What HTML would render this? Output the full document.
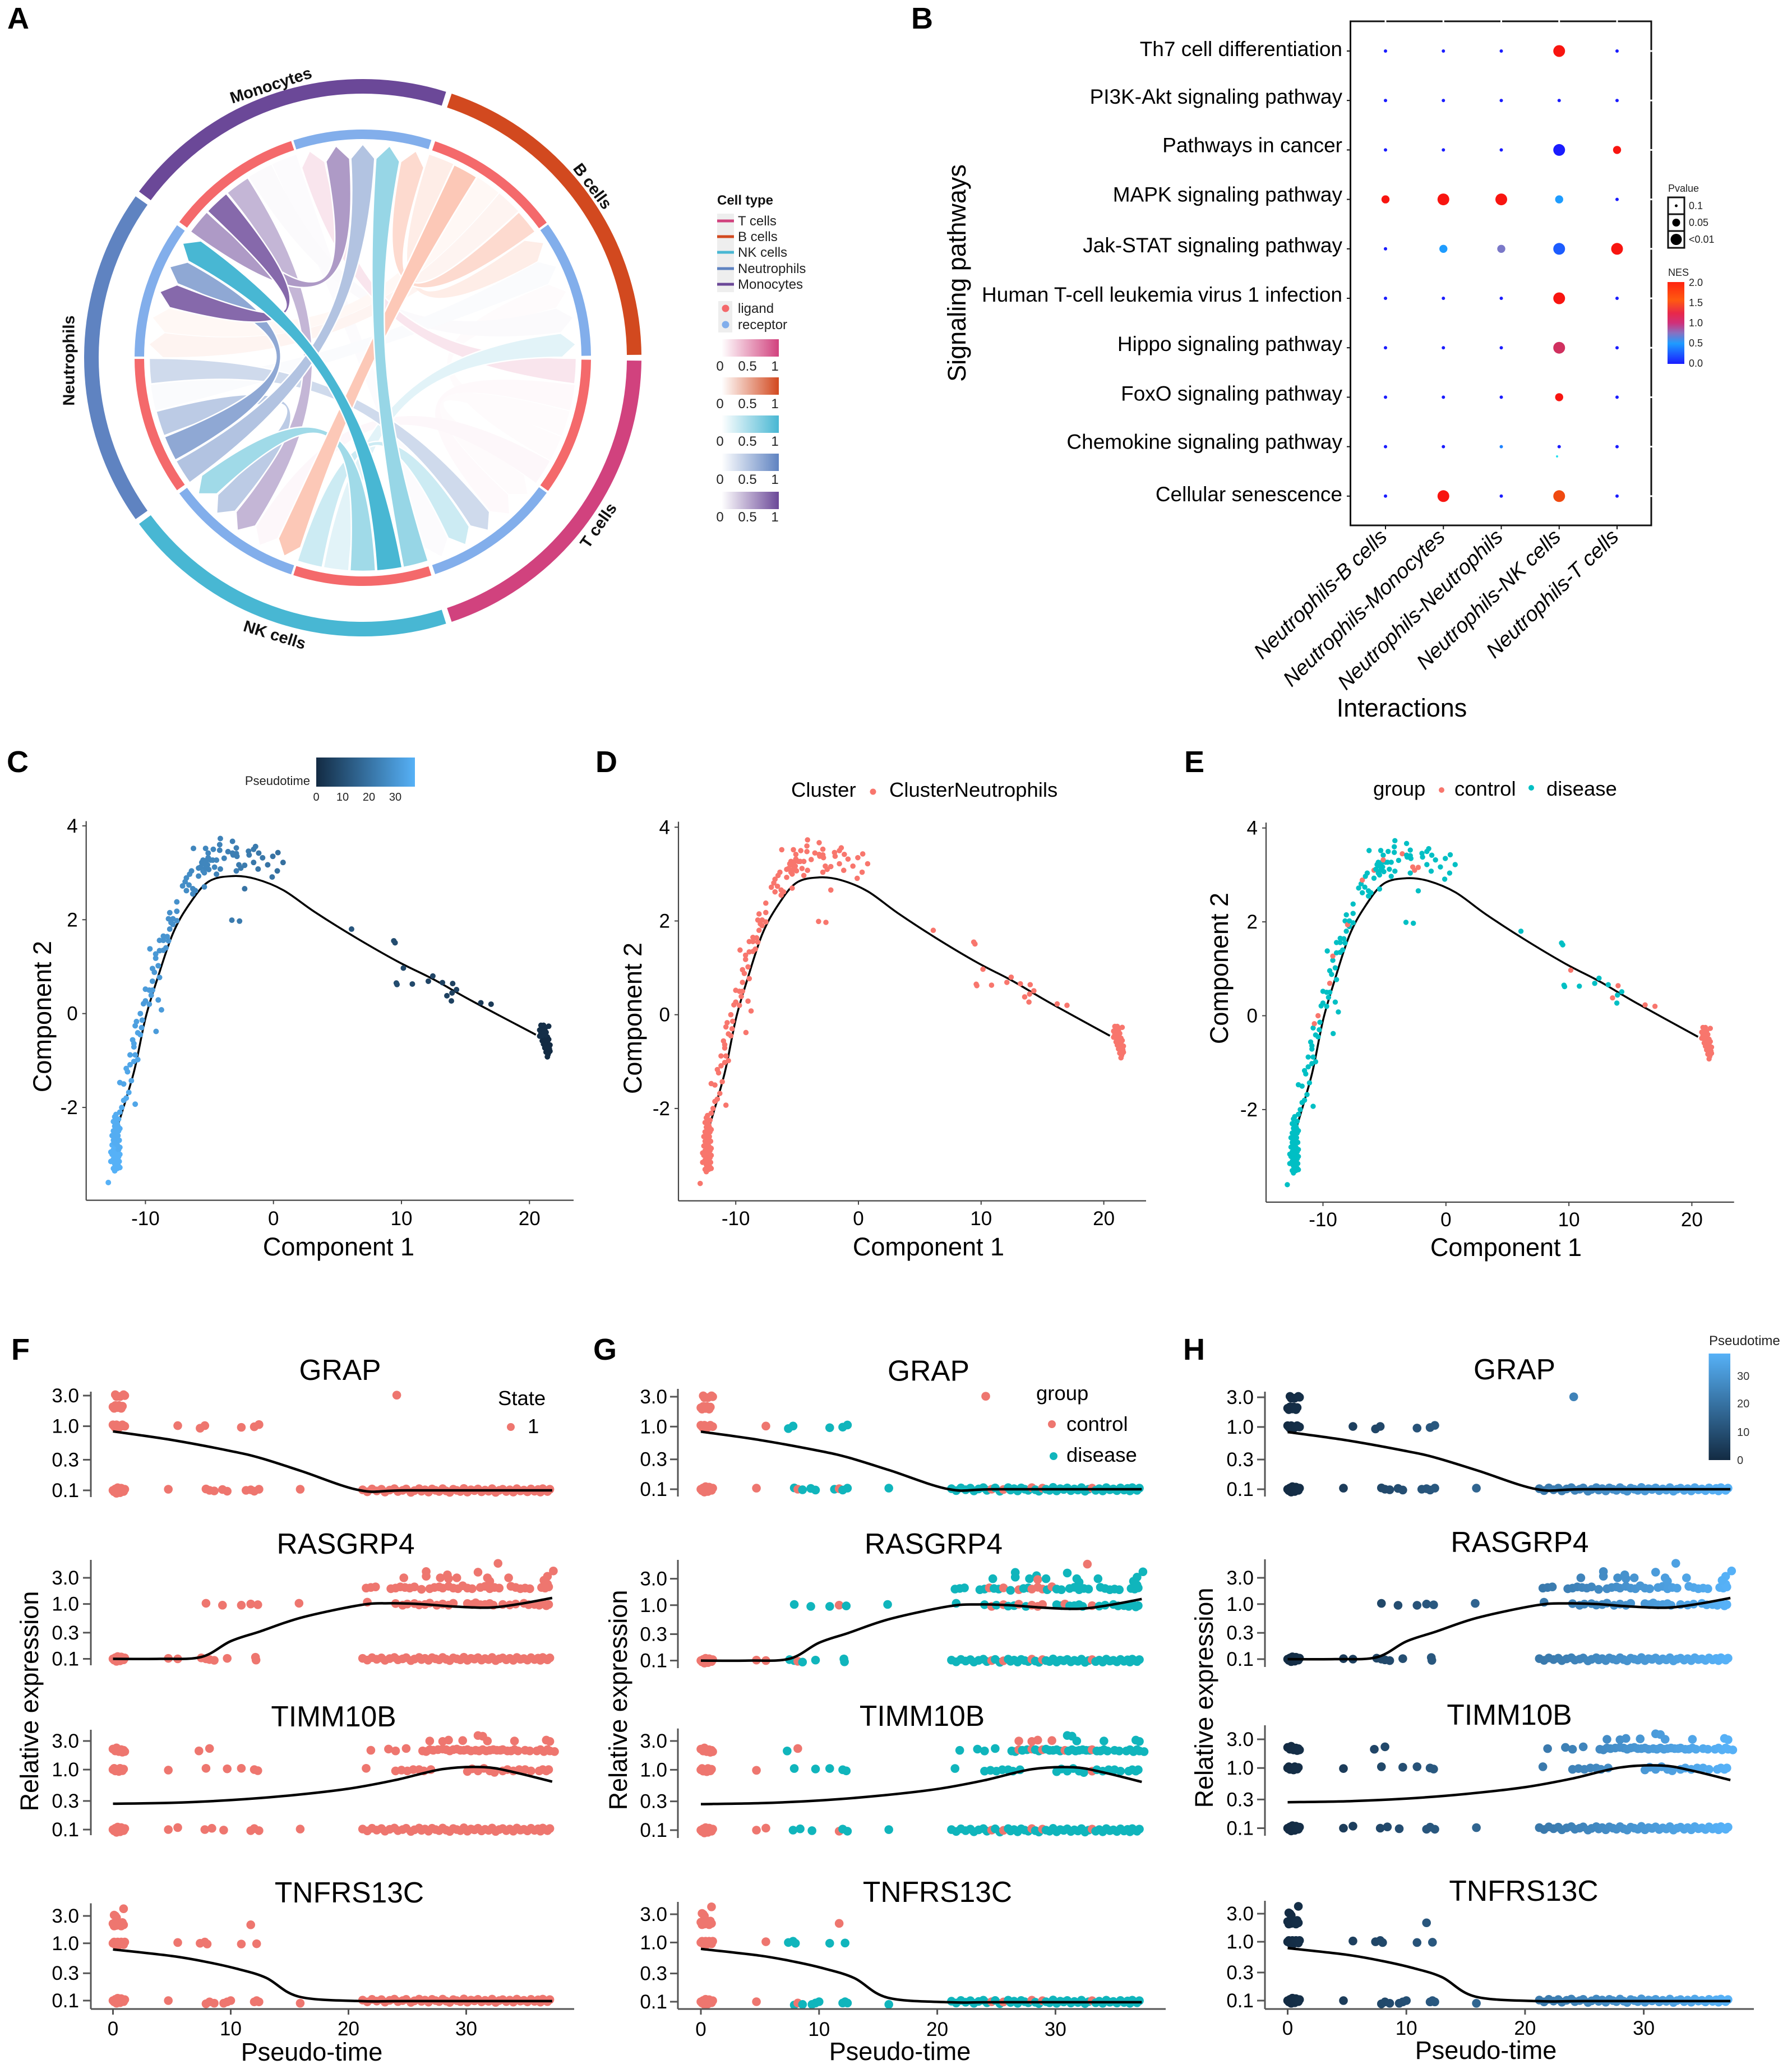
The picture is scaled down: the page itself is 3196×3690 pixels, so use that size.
<!DOCTYPE html>
<html lang="en">
<head>
<meta charset="utf-8">
<title>Neutrophil cell communication and pseudotime figure</title>
<style>
html,body{margin:0;padding:0;background:#fff;}
svg{display:block;font-family:"Liberation Sans",Arial,sans-serif;}
.pl{font-weight:700;font-size:54px;fill:#000;}
.ring{font-weight:700;font-size:29px;fill:#111;text-anchor:middle;}
.lg{font-size:24px;fill:#222;}
.at{font-size:45px;fill:#000;text-anchor:middle;}
.tk{font-size:35px;fill:#000;}
.lg36{font-size:36.5px;fill:#000;}
.sm18{font-size:18px;fill:#222;}
</style>
</head>
<body>
<svg id="figure" xmlns="http://www.w3.org/2000/svg" width="3196" height="3690" viewBox="0 0 3196 3690">
<defs>
<linearGradient id="gT" x1="0" x2="1" y1="0" y2="0"><stop offset="0" stop-color="#fff"/><stop offset="1" stop-color="#D1427E"/></linearGradient>
<linearGradient id="gB" x1="0" x2="1" y1="0" y2="0"><stop offset="0" stop-color="#fff"/><stop offset="1" stop-color="#D2491F"/></linearGradient>
<linearGradient id="gNK" x1="0" x2="1" y1="0" y2="0"><stop offset="0" stop-color="#fff"/><stop offset="1" stop-color="#48B7D3"/></linearGradient>
<linearGradient id="gN" x1="0" x2="1" y1="0" y2="0"><stop offset="0" stop-color="#fff"/><stop offset="1" stop-color="#5F83C1"/></linearGradient>
<linearGradient id="gM" x1="0" x2="1" y1="0" y2="0"><stop offset="0" stop-color="#fff"/><stop offset="1" stop-color="#6B4898"/></linearGradient>
<linearGradient id="gPt" x1="0" x2="1" y1="0" y2="0"><stop offset="0" stop-color="#132B43"/><stop offset="1" stop-color="#56B1F7"/></linearGradient>
<linearGradient id="gPtV" x1="0" x2="0" y1="1" y2="0"><stop offset="0" stop-color="#132B43"/><stop offset="1" stop-color="#56B1F7"/></linearGradient>
<linearGradient id="gNes" x1="0" x2="0" y1="1" y2="0">
<stop offset="0" stop-color="#1a1cff"/><stop offset=".25" stop-color="#1e9cff"/><stop offset=".38" stop-color="#8a70c0"/><stop offset=".5" stop-color="#d0307a"/><stop offset=".62" stop-color="#e8284a"/><stop offset=".78" stop-color="#ff5a10"/><stop offset="1" stop-color="#ff2410"/>
</linearGradient>
</defs>

<g>
<text class="pl" x="13" y="51">A</text>
<text class="pl" x="1625" y="51">B</text>
<text class="pl" x="12" y="1377">C</text>
<text class="pl" x="1062" y="1377">D</text>
<text class="pl" x="2112" y="1377">E</text>
<text class="pl" x="20" y="2425">F</text>
<text class="pl" x="1058" y="2425">G</text>
<text class="pl" x="2110" y="2425">H</text>
</g>

<g id="panelA">
<g id="chordRibbons"></g>
<g id="chordRings"></g>
<text class="ring" transform="translate(483,152) rotate(-18)" dy="10">Monocytes</text>
<text class="ring" transform="translate(1057,332) rotate(53)" dy="10">B cells</text>
<text class="ring" transform="translate(1067,937) rotate(-55)" dy="10">T cells</text>
<text class="ring" transform="translate(490,1132) rotate(17)" dy="10">NK cells</text>
<text class="ring" transform="translate(122.5,643) rotate(-90)" dy="10">Neutrophils</text>

<g>
<text x="1279" y="365" font-size="24" font-weight="700" fill="#111">Cell type</text>
<rect x="1279" y="381" width="30" height="140" fill="#eee"/>
<line x1="1279" x2="1309" y1="394" y2="394" stroke="#D1427E" stroke-width="5"/>
<line x1="1279" x2="1309" y1="422" y2="422" stroke="#D2491F" stroke-width="5"/>
<line x1="1279" x2="1309" y1="450" y2="450" stroke="#48B7D3" stroke-width="5"/>
<line x1="1279" x2="1309" y1="479" y2="479" stroke="#5F83C1" stroke-width="5"/>
<line x1="1279" x2="1309" y1="507" y2="507" stroke="#6B4898" stroke-width="5"/>
<text class="lg" x="1316" y="402">T cells</text>
<text class="lg" x="1316" y="430">B cells</text>
<text class="lg" x="1316" y="458">NK cells</text>
<text class="lg" x="1316" y="487">Neutrophils</text>
<text class="lg" x="1316" y="515">Monocytes</text>
<rect x="1281" y="537" width="25" height="56" fill="#eee"/>
<circle cx="1294" cy="550" r="6.5" fill="#F4696B"/>
<circle cx="1294" cy="579" r="6.5" fill="#82AEEB"/>
<text class="lg" x="1316" y="558">ligand</text>
<text class="lg" x="1316" y="587">receptor</text>
<rect x="1287" y="605" width="102" height="31" fill="url(#gT)"/>
<rect x="1287" y="673" width="102" height="31" fill="url(#gB)"/>
<rect x="1287" y="741" width="102" height="31" fill="url(#gNK)"/>
<rect x="1287" y="809" width="102" height="31" fill="url(#gN)"/>
<rect x="1287" y="877" width="102" height="31" fill="url(#gM)"/>
<g id="gradLabels"></g>
</g>
</g>

<g id="panelB">
<rect x="2408.5" y="38" width="536.5" height="899" fill="none" stroke="#111" stroke-width="3"/>
<g id="dotPlot"></g>
<text class="at" transform="translate(1722,487) rotate(-90)">Signaling pathways</text>
<text class="at" x="2500" y="1278">Interactions</text>
<g>
<text class="sm18" x="2975" y="342">Pvalue</text>
<rect x="2975" y="352" width="29" height="30" fill="#fff" stroke="#111" stroke-width="3"/>
<rect x="2975" y="382" width="29" height="30" fill="#fff" stroke="#111" stroke-width="3"/>
<rect x="2975" y="412" width="29" height="30" fill="#fff" stroke="#111" stroke-width="3"/>
<circle cx="2989.5" cy="367" r="2.5" fill="#000"/>
<circle cx="2989.5" cy="397" r="7" fill="#000"/>
<circle cx="2989.5" cy="427" r="10" fill="#000"/>
<text class="sm18" x="3012" y="373">0.1</text>
<text class="sm18" x="3012" y="403">0.05</text>
<text class="sm18" x="3012" y="433">&lt;0.01</text>
</g>
<g>
<text class="sm18" x="2975" y="492">NES</text>
<rect x="2974" y="503" width="30" height="146" fill="url(#gNes)"/>
<text class="sm18" x="3012" y="510">2.0</text>
<text class="sm18" x="3012" y="546">1.5</text>
<text class="sm18" x="3012" y="582">1.0</text>
<text class="sm18" x="3012" y="618">0.5</text>
<text class="sm18" x="3012" y="654">0.0</text>
</g>
</g>

<g id="panelC">
<text x="553" y="1400" font-size="22" fill="#222" text-anchor="end">Pseudotime</text>
<rect x="564" y="1351" width="176" height="52" fill="url(#gPt)"/>
<text x="564" y="1428" font-size="20" fill="#222" text-anchor="middle">0</text>
<text x="611" y="1428" font-size="20" fill="#222" text-anchor="middle">10</text>
<text x="658" y="1428" font-size="20" fill="#222" text-anchor="middle">20</text>
<text x="705" y="1428" font-size="20" fill="#222" text-anchor="middle">30</text>
<text class="at" x="604" y="2239">Component 1</text>
<text class="at" transform="translate(91,1813) rotate(-90)">Component 2</text>
</g>
<g id="panelD">
<text class="lg36" x="1411" y="1421">Cluster</text>
<circle cx="1557" cy="1412" r="5.5" fill="#F8766D"/>
<text class="lg36" x="1586" y="1421">ClusterNeutrophils</text>
<text class="at" x="1656" y="2239">Component 1</text>
<text class="at" transform="translate(1144,1816) rotate(-90)">Component 2</text>
</g>
<g id="panelE">
<text class="lg36" x="2449" y="1419">group</text>
<circle cx="2571" cy="1409" r="5" fill="#F8766D"/>
<text class="lg36" x="2594" y="1419">control</text>
<circle cx="2731" cy="1405" r="5" fill="#00BFC4"/>
<text class="lg36" x="2758" y="1419">disease</text>
<text class="at" x="2686" y="2240">Component 1</text>
<text class="at" transform="translate(2190,1727) rotate(-90)">Component 2</text>
</g>

<g id="panelF">
<text class="at" transform="translate(68,3034) rotate(-90)">Relative expression</text>
<text class="at" x="556" y="3675">Pseudo-time</text>
</g>
<g id="panelG">
<text class="at" transform="translate(1118,3032) rotate(-90)">Relative expression</text>
<text class="at" x="1605" y="3674">Pseudo-time</text>
</g>
<g id="panelH">
<text class="at" transform="translate(2163,3028) rotate(-90)">Relative expression</text>
<text class="at" x="2650" y="3672">Pseudo-time</text>
</g>
<g id="legendsFGH">
<text class="lg36" x="888" y="2506">State</text>
<circle cx="911" cy="2545" r="7" fill="#EE766F"/>
<text class="lg36" x="941" y="2556">1</text>
<text class="lg36" x="1848" y="2497">group</text>
<circle cx="1876" cy="2540" r="7" fill="#EE766F"/>
<text class="lg36" x="1902" y="2552">control</text>
<circle cx="1879" cy="2597" r="7" fill="#10B5BC"/>
<text class="lg36" x="1902" y="2607">disease</text>
<text x="3048" y="2399" font-size="24" fill="#222">Pseudotime</text>
<rect x="3047.5" y="2414" width="38.5" height="190" fill="url(#gPtV)"/>
<text x="3098" y="2461" font-size="20" fill="#333">30</text>
<text x="3098" y="2510" font-size="20" fill="#333">20</text>
<text x="3098" y="2561" font-size="20" fill="#333">10</text>
<text x="3098" y="2611" font-size="20" fill="#333">0</text>
</g>
</svg>

<script>
/* ---------- Panel A data ---------- */
const cellTypes = ['B','T','NK','N','M'];
const chordFromType = ['T','T','T','T','M','M','N','B','B','B','T','NK','B','B','NK','N','M','N','N','NK','B','M','NK','N','M','NK'];
const chordFromSlot = [2,3,1,4,4,3,3,2,3,0,0,3,4,1,4,4,2,2,0,2,1,0,0,1,1,1];
const chordToType   = ['T','B','T','NK','T','B','B','N','N','B','M','B','M','NK','T','T','NK','NK','M','NK','NK','M','M','N','N','N'];
const chordToSlot   = [0,2,1,1,4,3,1,1,0,0,0,4,4,0,3,2,2,3,2,4,0,1,3,3,2,4];
const chordStrength = [.02,.02,.03,.04,.02,.03,.03,.04,.06,.1,.14,.16,.2,.3,.28,.3,.4,.42,.48,.52,.3,.55,.57,.7,.82,1];

/* ---------- Panel B data ---------- */
const pathways = ['Th7 cell differentiation','PI3K-Akt signaling pathway','Pathways in cancer','MAPK signaling pathway','Jak-STAT signaling pathway','Human T-cell leukemia virus 1 infection','Hippo signaling pathway','FoxO signaling pathway','Chemokine signaling pathway','Cellular senescence'];
const interactions = ['Neutrophils-B cells','Neutrophils-Monocytes','Neutrophils-Neutrophils','Neutrophils-NK cells','Neutrophils-T cells'];
const pvalues = [
 [.1,.1,.1,.01,.1],[.1,.1,.1,.1,.1],[.1,.1,.1,.008,.05],[.05,.01,.01,.045,.1],[.1,.045,.045,.01,.01],
 [.1,.1,.1,.01,.1],[.1,.1,.1,.01,.1],[.1,.1,.1,.05,.1],[.1,.1,.1,.1,.1],[.1,.01,.1,.01,.1]];
const nesValues = [
 [0,0,0,2,0],[0,0,0,0,0],[0,0,0,0,2],[2,2,2,.5,0],[0,.5,.75,.25,2],
 [0,0,0,2,0],[0,0,0,1.15,0],[0,0,0,2,0],[0,0,.4,0,0],[0,2,0,1.6,0]];

/* ---------- Panels C/D/E data ---------- */
const compX = [
-12.9,-12.7,-12.7,-12.6,-12.5,-12.5,-12.5,-12.5,-12.5,-12.4,
-12.4,-12.4,-12.4,-12.4,-12.4,-12.3,-12.3,-12.3,-12.3,-12.3,
-12.3,-12.2,-12.2,-12.2,-12.2,-12.2,-12.1,-12.1,-12.1,-12.1,
-12.1,-12.3,-12,-12,-11.85,-11.5,-11.3,-11.7,-12,-11.7,
-10.8,-11.1,-11.5,-11.4,-11.2,-10.9,-10.6,-11.2,-10.8,-10.9,
-11,-10.9,-10.6,-10.4,-10.8,-10.7,-10.3,-10.25,-10.4,-10.15,
-10,-9.7,-10,-9.7,-9.55,-9.45,-9,-8.75,-9.17,-9.45,
-8.9,-9,-9.45,-9.3,-9.2,-9.2,-9.65,-8.9,-8.6,-8.4,
-8.9,-8.6,-8.6,-8.3,-8.2,-8.1,-8.2,-7.85,-8,-8.1,
-7.55,-7.55,-7.55,-7.85,-7.1,-6.8,-6.9,-6.8,-6.55,-6.6,
-6.3,-6.3,-6.1,-6.4,-5.85,-5.4,-5.5,-5.4,-5.85,-6.25,
-5.3,-4.7,-4.15,-4.2,-3.2,-2.9,-3.55,-3.2,-3.15,-2.9,
-2.85,-3.85,-4.2,-5.1,-5.5,-5.2,-4.9,-5.1,-5.6,-5.4,
-5.15,-4.75,-4.45,-5.7,-5.3,-5.05,-4.6,-4.15,-4.45,-2.9,
-2.7,-2.55,-2.25,-1.95,-1.9,-1.55,-1.4,-1.15,-.85,-1.55,
-1.2,-.45,-.05,.35,.75,.3,-.1,-2.25,-3.25,-2.65,
6.1,9.4,9.5,9.6,9.65,10.15,10.85,12.1,12.45,13.2,
14,14.3,13.55,13.95,13.9,16.2,17,20.9,21.1,21.5,
20.8,21,21.2,20.9,21.1,21.3,20.8,21,21.2,21.4,
21,21.2,21.4,21.5,21.1,21.3,21.6,21.2,21.4,21.55,
21.3,21.5,21.6,21.4,21.45,
-12.6,-12.5,-12.4,-12.2,-12,-12.05,-12.45,-12.35,-12.25,-12.15,
-12.6,-12.55,-12.25,-12.35,-12.05,-12,-12,-12.15,-12.45,-12.3];
const compY = [
-3.6,-3.15,-2.95,-2.8,-3.3,-3.1,-2.9,-2.7,-2.5,-3.35,
-3.2,-3,-2.85,-2.6,-2.4,-3.3,-3.15,-3.05,-2.9,-2.75,
-2.55,-3.3,-3.1,-2.95,-2.8,-2.65,-3.25,-3.05,-2.9,-2.5,
-2.25,-2.15,-2.1,-3.28,-2,-1.8,-1.68,-1.85,-1.47,-1.5,
-1.93,-1.43,-1.17,-1.24,-1.09,-1.02,-.98,-.88,-.88,-.71,
-.56,-.64,-.41,-.45,-.26,-.17,-.3,-.14,0,.21,
.27,.2,.52,.5,.39,.5,.29,.08,-.38,.69,
.77,1.02,.96,.88,1.18,1.27,1.38,1.34,1.35,1.4,
1.56,1.65,1.56,1.64,1.55,1.8,2.02,1.9,1.94,2.15,
1.98,2.18,2.38,2.02,2.72,2.62,2.81,2.89,2.97,2.74,
2.66,2.55,2.62,3.04,2.93,2.7,3.04,3,3.1,3.52,
3.52,3.5,3.73,3.6,3.67,3.53,3.45,3.42,3.38,3.41,
3.35,3.31,3.48,3.42,3.27,3.27,3.27,3.32,3.22,3.19,
3.17,3.27,3.27,3.12,3.1,3.07,3.12,3.08,2.97,3.04,
3.17,3.1,3.16,3.46,3.38,3.5,3.56,3.42,3.32,3.22,
3.08,3.17,3.35,3.43,3.22,3.04,2.91,2.66,1.99,1.97,
1.8,1.55,1.51,.65,.62,.97,.63,.69,.8,.66,
.64,.51,.38,.44,.27,.23,.2,-.25,-.25,-.27,
-.35,-.35,-.33,-.42,-.42,-.4,-.48,-.5,-.48,-.5,
-.58,-.57,-.6,-.55,-.65,-.67,-.67,-.73,-.75,-.75,
-.82,-.83,-.8,-.92,-.87,
-2.6,-2.3,-2.2,-2.35,-2.45,-2.7,-2.75,-2.5,-2.45,-2.6,
-3,-2.95,-3.2,-3.25,-3.15,-3,-2.85,-2.4,-2.3,-2.35];
const pseudotime = [
37,37,37,37,37,37,37,36,36,37,
37,37,37,36,36,37,37,37,37,36,
36,37,37,37,36,36,37,37,36,36,
36,36,35,37,35,35,35,35,34,34,
34,34,34,34,34,34,34,33,33,33,
33,33,33,33,32,32,32,32,32,31,
31,31,31,31,31,31,31,31,31,30,
30,30,30,30,30,30,30,29,29,29,
29,29,29,29,29,28,28,28,28,28,
28,28,28,28,27,27,27,27,27,27,
26,26,26,26,26,26,26,26,25,25,
25,25,24,24,23,23,23,23,23,23,
23,24,24,25,25,25,25,25,25,25,
25,25,25,25,25,25,25,24,24,23,
22,22,22,22,22,22,22,21,21,21,
21,20,20,19,19,19,20,20,22,22,
12,9,9,9,9,8,8,7,7,6,
6,6,6,6,6,4,4,1,1,1,
1,1,1,1,1,1,1,1,1,1,
0,0,0,0,0,0,0,0,0,0,
0,0,0,0,0,
36,36,36,36,36,36,36,36,36,36,
37,37,37,37,37,37,36,36,36,36];
const controlCells = [55,58,69,75,88,97,108,116,127,140,141,142,165,170,172,175,176,
177,178,179,180,181,182,183,184,185,186,187,188,189,190,191,192,193,194,195,196,197,198,199,200,201,202,203,204];
const trajX = [-12.15,-10.9,-10,-9.08,-7.85,-6.6,-5.08,-3.2,-1.4,.77,3.2,6.3,9.7,12.5,15.5,20.5];
const trajY = [-2.38,-1.24,-.1,.73,1.71,2.32,2.81,2.93,2.87,2.63,2.17,1.64,1.11,.73,.27,-.45];
const compXTicks = [-10,0,10,20];
const compYTicks = [-2,0,2,4];

/* ---------- Panels F/G/H data ---------- */
const earlyTimes = [0,.1,.2,.3,.4,.5,.6,.7,.8,.9,1];
const earlyExpr = [.1,.095,.105,.09,.11,.1,.092,.108,.1,.096,.104];
const bandTimes = [21.2,21.6,22,22.4,22.8,23.1,23.5,23.9,24.2,24.6,24.9,25.3,25.6,26,26.2,26.5,26.8,27.1,27.4,27.7,28,28.3,28.6,28.9,29.2,29.5,29.8,30.1,30.4,30.7,31,31.3,31.6,31.9,32.2,32.5,32.8,33.1,33.4,33.7,34,34.3,34.6,34.9,35.2,35.5,35.8,36.1,36.3,36.5,36.7,36.9,37.1];
const bandExpr = [.102,.095,.105,.098,.104,.094,.101,.106,.096,.1,.105,.093,.099,.106,.097,.102,.094,.105,.1,.096,.106,.098,.093,.104,.1,.096,.107,.094,.102,.099,.105,.095,.101,.097,.106,.093,.1,.104,.096,.102,.094,.106,.098,.101,.095,.105,.097,.103,.094,.106,.1,.096,.104];
const controlTimes = [4.7,5.5,8.2,11.7,24.1,24.4,24.6,25.6,26.9,28,28.5,28.9,29.7,30.8,32.7,33.1];
const exprTicks = [3,1,.3,.1];
const exprTickLabels = ['3.0','1.0','0.3','0.1'];
const timeTicks = [0,10,20,30];
const geneNames = ['GRAP','RASGRP4','TIMM10B','TNFRS13C'];
const grapCells = [[.2,3.1],[.3,2.9],[.6,2.9],[.9,3.1],[1,3],[24.1,3.05],[0,2],[.1,1.9],[.2,2.1],[.3,2],[.4,1.95],[.5,2.1],[.6,2],[.7,1.9],[.8,2.05],[0,1.05],[.1,1],[.2,.95],[.3,1.05],[.4,1],[.5,.95],[.7,1],[.8,1.05],[1,1],[5.5,1.02],[7.4,.93],[7.8,1.02],[10.9,.96],[12,.98],[12.4,1.06],[4.7,.104],[7.9,.105],[8.2,.1],[8.6,.098],[9.3,.103],[9.7,.097],[11.3,.1],[11.7,.102],[12,.097],[12.4,.104],[15.9,.104]];
const rasgrp4Cells = [[4.7,.102],[5.5,.1],[7.5,.104],[7.9,.1],[8.2,.097],[8.6,.094],[9.7,.102],[12.1,.107],[12.15,.095],[7.9,1.03],[9.3,.95],[10.9,.95],[11.7,1],[12.3,.97],[15.8,1.03],
[21.6,1.08],[24,1.02],[24.6,.95],[25,1],[25.6,1.02],[26,.96],[26.5,.98],[26.9,1.04],[27.5,.95],[28,1],[28.5,.95],[28.9,1.03],[30.1,1.02],[30.5,.98],[30.8,1.05],[31.2,.97],[31.6,.98],[32,1.02],[32.3,.95],[33.1,.98],[33.7,.96],[34.2,1],[34.9,1.03],[35.3,.97],[35.8,.98],[36.2,.95],[36.5,1.05],[36.8,.93],[37,.98],
[21.5,1.95],[21.9,2],[22.3,2.05],[23.6,1.9],[24,1.95],[24.4,2.05],[24.8,2],[25.2,1.95],[25.6,2.05],[26.2,1.85],[26.9,1.9],[27.3,2],[27.7,2.05],[28,1.95],[28.5,2.1],[28.9,1.95],[29.3,1.9],[29.7,2.15],[30.1,1.95],[30.5,1.9],[31.2,2],[31.6,2.1],[32,1.9],[32.4,2],[32.8,1.95],[33.8,2.1],[34.2,2],[34.6,1.9],[35,1.95],[35.4,1.9],[36.4,2],[36.7,1.95],[37,2.05],[36.9,2.3],
[24.7,3],[26.6,3.9],[26.6,3.2],[27.8,3],[28.4,3.4],[28.5,2.9],[29.2,3],[31,3.8],[31.8,3],[32,2.6],[32.7,5.5],[33.6,3],[36.9,3.2],[37.4,4],[36.6,2.7]];
const timm10bCells = [[5.5,.108],[7.8,.1],[8.4,.105],[9.4,.098],[11.7,.096],[12,.104],[12.4,.096],[15.9,.102],[4.7,.1],
[0,2.2],[.2,2.05],[.3,2.3],[.5,2],[.7,2.15],[.8,1.95],[.9,2.1],[1,2],[7.3,2.05],[8.2,2.25],
[0,1],[.1,1.05],[.2,.95],[.4,1],[.5,.93],[.6,1.05],[.7,1],[.8,.96],[.9,1.02],[4.7,.98],[7.9,1.05],[9.7,1.03],[10.9,1.05],[12,1],[12.3,.96],
[21.9,2.1],[23.4,2.2],[24,2.05],[24.9,2.25],[26.3,2.05],[26.6,2],[26.9,2.15],[27.2,2.1],[27.6,2.15],[28,2.2],[28.3,2.15],[28.6,2.05],[28.9,2.15],[29.2,2.2],[29.5,2.1],[29.8,2.1],[30.1,2.15],[30.4,2.05],[30.8,2.1],[31.1,2.05],[31.4,2.15],[31.7,2.05],[32,2.1],[32.3,2.15],[32.6,2.1],[32.9,2.1],[33.1,2.15],[33.5,2.05],[33.8,2.05],[34.1,2.15],[34.4,2.05],[35,2.1],[35.4,2.05],[36,2.05],[36.3,2.15],[36.6,2],[36.9,2.15],[37.1,2.05],[37.5,2],
[26.9,3],[28,2.95],[28.5,3.1],[29.7,3.05],[31,3.7],[31.4,3.6],[31.8,3],[34.1,3],[36.8,3.1],[37.1,2.95],
[21.5,1.05],[24,.95],[24.5,.98],[25,.95],[25.5,1],[26,1],[26.4,.95],[27,1],[30.1,.93],[30.5,1.03],[31,.95],[31.5,1.05],[32,.95],[32.4,.9],[33.1,.95],[33.5,1],[34,.95],[34.5,1],[35,1],[35.5,.95],[36.2,.95],[36.5,1],[36.8,.95],[37,1]];
const tnfrs13cCells = [[4.7,.1],[7.9,.088],[8.2,.095],[8.6,.09],[9.4,.09],[9.7,.095],[10,.1],[12,.095],[12.2,.1],[12.4,.095],[15.9,.09],
[.9,4],[.2,3],[.3,2.8],[.1,3.1],[0,2.2],[.1,2],[.2,2.3],[.3,2.05],[.4,2.2],[.6,2.2],[.7,2],[.8,2.3],[.9,2.1],[11.7,2.1],
[0,1],[.1,1.05],[.2,.95],[.3,1],[.4,1.05],[.5,.93],[.6,1],[.7,1.05],[.8,1],[.9,.95],[1,1.05],[5.5,1.03],[7.4,1],[7.8,1.05],[8,.97],[10.9,.97],[12.2,.98]];
const grapCurveT = [0,5,10,12.5,16,21,25,37.3];
const grapCurveV = [.83,.61,.41,.32,.2,.1,.1,.1];
const rasgrp4CurveT = [0,4,7.5,10,12.5,16,21,23.5,26,29,32,34.5,37.3];
const rasgrp4CurveV = [.1,.1,.108,.21,.316,.565,.955,1.03,1,.9,.86,1,1.29];
const timm10bCurveT = [0,5,10,15,20,24,28,31.5,34,37.3];
const timm10bCurveV = [.27,.28,.31,.37,.48,.67,1.02,1.1,.91,.63];
const tnfrs13cCurveT = [0,5,8,10.5,13,15.8,21,25,37.3];
const tnfrs13cCurveV = [.78,.6,.47,.36,.25,.117,.098,.098,.098];

/* ---------- helpers ---------- */
const NS = 'http://www.w3.org/2000/svg';
function el(tag, attrs, parent){
  const n = document.createElementNS(NS, tag);
  for(const k in attrs) n.setAttribute(k, attrs[k]);
  parent.appendChild(n);
  return n;
}
function nameIt(n, name){
  
  
  return n;
}
function txt(parent, x, y, s, size, anchor, name, extra){
  const t = el('text', Object.assign({x:x, y:y, 'font-size':size, 'text-anchor':anchor||'start', fill:'#000'}, extra||{}), parent);
  t.textContent = s;
  return nameIt(t, name);
}
function mix(c1, c2, f){
  const a=[1,3,5].map(i=>parseInt(c1.substr(i,2),16)), b=[1,3,5].map(i=>parseInt(c2.substr(i,2),16));
  return 'rgb('+a.map((v,i)=>Math.round(v+(b[i]-v)*f)).join(',')+')';
}
function ptColor(t){ return mix('#132B43','#56B1F7',Math.max(0,Math.min(1,t/37))); }
function smoothPath(P){
  let d='M'+P[0][0].toFixed(1)+' '+P[0][1].toFixed(1);
  for(let i=0;i<P.length-1;i++){
    const p0=P[Math.max(0,i-1)],p1=P[i],p2=P[i+1],p3=P[Math.min(P.length-1,i+2)];
    d+=' C'+(p1[0]+(p2[0]-p0[0])/6).toFixed(1)+' '+(p1[1]+(p2[1]-p0[1])/6).toFixed(1)+' '+(p2[0]-(p3[0]-p1[0])/6).toFixed(1)+' '+(p2[1]-(p3[1]-p1[1])/6).toFixed(1)+' '+p2[0].toFixed(1)+' '+p2[1].toFixed(1);
  }
  return d;
}

/* ---------- Panel A ---------- */
(function(){
  const cx=647, cy=638;
  const pol=(deg,r)=>{const a=(deg-90)*Math.PI/180;return [cx+r*Math.cos(a),cy+r*Math.sin(a)];};
  const f=p=>p[0].toFixed(1)+' '+p[1].toFixed(1);
  const sectorStart={B:18,T:90,NK:162,N:234,M:306};
  const sectorColor={B:'#D2491F',T:'#D1427E',NK:'#48B7D3',N:'#5F83C1',M:'#6B4898'};
  const ribbonColor={B:'#F5480F',T:'#D1427E',NK:'#48B7D3',N:'#5F83C1',M:'#6B4898'};
  const rings=document.getElementById('chordRings');
  const ribbons=document.getElementById('chordRibbons');
  const arc=(a0,a1,r)=>'M'+f(pol(a0,r))+' A'+r+' '+r+' 0 0 1 '+f(pol(a1,r));
  cellTypes.forEach(c=>{
    const s=sectorStart[c];
    nameIt(el('path',{d:arc(s+.6,s+71.4,484),fill:'none',stroke:sectorColor[c],'stroke-width':26},rings),'sector-arc-'+c);
    nameIt(el('path',{d:arc(s+.5,s+35.7,398.5),fill:'none',stroke:'#F4696B','stroke-width':17},rings),'ligand-arc-'+c);
    nameIt(el('path',{d:arc(s+36.3,s+71.5,398.5),fill:'none',stroke:'#82AEEB','stroke-width':17},rings),'receptor-arc-'+c);
  });
  const R=381, RB=356, C=.27, hw=3.45;
  chordStrength.forEach((alpha,i)=>{
    const a=sectorStart[chordFromType[i]]+(chordFromSlot[i]+.5)*7.2;
    const b=sectorStart[chordToType[i]]+36+(chordToSlot[i]+.5)*7.2;
    const a0=a-hw,a1=a+hw,b0=b-hw,b1=b+hw;
    const d='M'+f(pol(a0,R))+' A'+R+' '+R+' 0 0 1 '+f(pol(a1,R))+
      ' C'+f(pol(a1,R*C))+' '+f(pol(b0,RB*C))+' '+f(pol(b0,RB))+
      ' L'+f(pol(b,R))+' L'+f(pol(b1,RB))+
      ' C'+f(pol(b1,RB*C))+' '+f(pol(a0,R*C))+' '+f(pol(a0,R))+'Z';
    const p=el('path',{d:d,fill:mix('#ffffff',ribbonColor[chordFromType[i]],alpha),stroke:'#fff','stroke-width':alpha>.1?2.5:0},ribbons);
    
    
  });
  const gl=document.getElementById('gradLabels');
  [661,728,795,863,930].forEach((y,i)=>{
    txt(gl,1284,y,'0',24,'middle','gradient-label-0-'+i,{fill:'#222'});
    txt(gl,1333,y,'0.5',24,'middle','gradient-label-05-'+i,{fill:'#222'});
    txt(gl,1382,y,'1',24,'middle','gradient-label-1-'+i,{fill:'#222'});
  });
})();

/* ---------- Panel B ---------- */
(function(){
  const g=document.getElementById('dotPlot');
  const colX=i=>2471+i*103.25;
  const rowY=i=>91+i*88.2;
  const radius=p=>p>=.1?3:(p>=.05?7.2:(p>=.04?7.2:10.5));
  const stops=[[0,'#1a1cff'],[.5,'#1e9cff'],[.75,'#7a78c8'],[1.15,'#d0305f'],[1.6,'#f04a10'],[2,'#f81510']];
  const nesColor=v=>{for(let i=1;i<stops.length;i++){if(v<=stops[i][0]){return mix(stops[i-1][1],stops[i][1],(v-stops[i-1][0])/(stops[i][0]-stops[i-1][0]));}}return stops[stops.length-1][1];};
  const labelShift=[9,6,4,4,6,6,6,6,4,9];
  pathways.forEach((name,r)=>{
    const y=rowY(r);
    nameIt(el('line',{x1:2402,x2:2408,y1:y,y2:y,stroke:'#111','stroke-width':2},g),'row-tick');
    nameIt(el('line',{x1:2943,x2:2947,y1:y,y2:y,stroke:'#fff','stroke-width':3},g),'right-border-notch');
    txt(g,2394,y+labelShift[r],name,37,'end','row-label-'+r);
  });
  interactions.forEach((name,c)=>{
    const x=colX(c);
    nameIt(el('line',{x1:x,x2:x,y1:937,y2:944,stroke:'#111','stroke-width':2},g),'column-tick');
    nameIt(el('line',{x1:x,x2:x,y1:36,y2:40,stroke:'#fff','stroke-width':3},g),'top-border-notch');
    const t=txt(g,0,0,name,37.5,'end','column-label-'+c,{'font-style':'italic'});
    t.setAttribute('transform','translate('+(x+5)+',960) rotate(-44)');
  });
  pvalues.forEach((row,r)=>row.forEach((p,c)=>{
    const d=el('circle',{cx:colX(c),cy:rowY(r),r:radius(p),fill:nesColor(nesValues[r][c])},g);
    
    
  }));
  nameIt(el('circle',{cx:2777,cy:814,r:2,fill:'#25e0f0'},g),'stray-dot');
})();

/* ---------- Panels C/D/E ---------- */
(function(){
  const controls=new Set(controlCells);
  const layouts=[
   {id:'panelC',x0:487.7,xs:22.83,y0:1807.7,ys:83.7,l:153.7,r:1023,t:1464.5,b:2140.6,tb:2185,pr:5,
    col:i=>ptColor(pseudotime[i])},
   {id:'panelD',x0:1531,xs:21.88,y0:1809.7,ys:83.6,l:1210,r:2044,t:1465.5,b:2141.6,tb:2185,pr:4.8,
    col:()=>'#F8766D'},
   {id:'panelE',x0:2578.8,xs:21.93,y0:1811.5,ys:83.7,l:2258,r:3092.7,t:1467,b:2144,tb:2187,pr:4.7,
    col:i=>controls.has(i)?'#F8766D':'#00BFC4'}];
  layouts.forEach(L=>{
    const g=document.getElementById(L.id);
    const X=v=>L.x0+v*L.xs, Y=v=>L.y0-v*L.ys;
    nameIt(el('line',{x1:L.l,x2:L.l,y1:L.t,y2:L.b,stroke:'#444','stroke-width':2.2},g),'y-axis-line');
    nameIt(el('line',{x1:L.l,x2:L.r,y1:L.b,y2:L.b,stroke:'#444','stroke-width':2.2},g),'x-axis-line');
    compXTicks.forEach(v=>{
      nameIt(el('line',{x1:X(v),x2:X(v),y1:L.b,y2:L.b+7,stroke:'#444','stroke-width':2},g),'x-tick');
      txt(g,X(v),L.tb,String(v),35,'middle','x-tick-label-'+v);
    });
    compYTicks.forEach(v=>{
      nameIt(el('line',{x1:L.l-7,x2:L.l,y1:Y(v),y2:Y(v),stroke:'#444','stroke-width':2},g),'y-tick');
      txt(g,L.l-15,Y(v)+12,String(v),35,'end','y-tick-label-'+v);
    });
    const P=trajX.map((x,i)=>[X(x),Y(trajY[i])]);
    nameIt(el('path',{d:smoothPath(P),fill:'none',stroke:'#000','stroke-width':3.5},g),'trajectory-line');
    compX.forEach((x,i)=>{
      const c=el('circle',{cx:X(x),cy:Y(compY[i]),r:L.pr,fill:L.col(i)},g);
      
      
    });
  });
})();

/* ---------- Panels F/G/H ---------- */
(function(){
  const genes=[
   {cells:grapCells,ct:grapCurveT,cv:grapCurveV},
   {cells:rasgrp4Cells,ct:rasgrp4CurveT,cv:rasgrp4CurveV},
   {cells:timm10bCells,ct:timm10bCurveT,cv:timm10bCurveV},
   {cells:tnfrs13cCells,ct:tnfrs13cCurveT,cv:tnfrs13cCurveV}];
  const isControl=t=>t<=1||controlTimes.some(c=>Math.abs(c-t)<.051);
  const layouts=[
   {id:'panelF',x0:201.5,xs:21,ax:162,lab:141,xe:1024,xb:3583,tb:3630,col:()=>'#EE766F',
    rows:[[2489,2658,2482,2670,606.5,2461],[2814,2958.5,2782,2970,616.6,2771],[3105,3263,3085,3273,595,3079],[3417,3568,3394.5,3583,623,3393]]},
   {id:'panelG',x0:1250,xs:21.08,ax:1209,lab:1190,xe:2079,xb:3583,tb:3631,col:t=>isControl(t)?'#EE766F':'#10B5BC',
    rows:[[2491,2656,2477,2669,1656,2462.5],[2815.6,2961.6,2782,2975,1665,2771],[3105,3264,3082.7,3278,1644.5,3078],[3414,3570,3392,3583,1672,3392]]},
   {id:'panelH',x0:2296.5,xs:21.17,ax:2256,lab:2236,xe:3128,xb:3583,tb:3629,col:t=>ptColor(t),
    rows:[[2492,2656,2482,2669,2701,2460],[2814,2959,2781,2973,2710.5,2768],[3102,3260.5,3077,3274,2692,3076],[3413,3568,3390,3583,2717.5,3390]]}];
  layouts.forEach(L=>{
    const g=document.getElementById(L.id);
    const X=t=>L.x0+t*L.xs;
    genes.forEach((G,gi)=>{
      const R=L.rows[gi];
      const dec=(R[1]-R[0])/Math.log10(30);
      const Y=v=>R[1]-(Math.log10(v)+1)*dec;
      txt(g,R[4],R[5],geneNames[gi],51.5,'middle','gene-title-'+geneNames[gi]);
      nameIt(el('line',{x1:L.ax,x2:L.ax,y1:R[2],y2:R[3],stroke:'#555','stroke-width':3},g),'y-axis-line-'+geneNames[gi]);
      exprTicks.forEach((v,k)=>{
        nameIt(el('line',{x1:L.ax-14,x2:L.ax,y1:Y(v),y2:Y(v),stroke:'#555','stroke-width':3},g),'y-tick');
        txt(g,L.lab,Y(v)+12,exprTickLabels[k],35,'end','y-tick-label-'+exprTickLabels[k]);
      });
      const dot=(t,v)=>{
        const c=el('circle',{cx:X(t),cy:Y(v),r:7.8,fill:L.col(t)},g);
        
        
      };
      earlyTimes.forEach((t,i)=>dot(t,earlyExpr[i]));
      bandTimes.forEach((t,i)=>dot(t,bandExpr[i]));
      G.cells.forEach(c=>dot(c[0],c[1]));
      const P=G.ct.map((t,i)=>[X(t),Y(G.cv[i])]);
      nameIt(el('path',{d:smoothPath(P),fill:'none',stroke:'#000','stroke-width':4.5,'stroke-linejoin':'round'},g),'smooth-line-'+geneNames[gi]);
    });
    nameIt(el('line',{x1:L.ax,x2:L.xe,y1:L.xb,y2:L.xb,stroke:'#555','stroke-width':3},g),'x-axis-line');
    timeTicks.forEach(t=>{
      nameIt(el('line',{x1:X(t),x2:X(t),y1:L.xb,y2:L.xb+10,stroke:'#555','stroke-width':3},g),'x-tick');
      txt(g,X(t),L.tb,String(t),35,'middle','x-tick-label-'+t);
    });
  });
})();
</script>
</body>
</html>
